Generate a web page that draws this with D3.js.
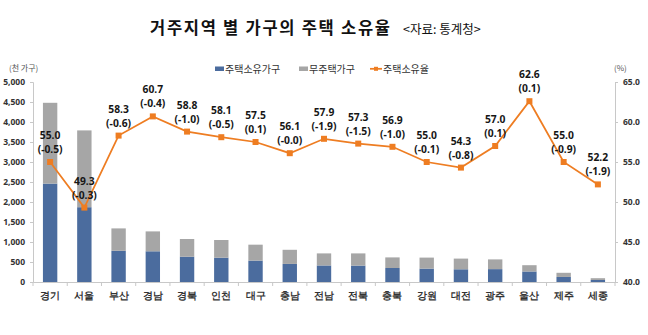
<!DOCTYPE html>
<html>
<head>
<meta charset="utf-8">
<script src="https://cdn.jsdelivr.net/npm/d3@7/dist/d3.min.js"></script>
<style>
  html, body { margin: 0; padding: 0; background: #fff; }
  svg { display: block; font-family: "Noto Sans CJK KR", "Noto Sans", sans-serif; }
</style>
</head>
<body>
<svg id="chart" width="648" height="335"></svg>
<script>
// Regions, ordered by number of households
const regions = ["경기","서울","부산","경남","경북","인천","대구","충남","전남","전북","충북","강원","대전","광주","울산","제주","세종"];
// Households owning a home (thousand households)
const ownerHouseholds = [2460,1870,780,768,632,608,535,452,414,410,350,335,318,322,263,126,50];
// Households without a home (thousand households)
const nonOwnerHouseholds = [2020,1920,560,497,443,442,398,353,301,305,265,275,267,243,157,104,45];
// Home ownership rate (%)
const ownershipRate = [55.0,49.3,58.3,60.7,58.8,58.1,57.5,56.1,57.9,57.3,56.9,55.0,54.3,57.0,62.6,55.0,52.2];
// Year-on-year change of the ownership rate (%p)
const rateChange = ["(-0.5)","(-0.3)","(-0.6)","(-0.4)","(-1.0)","(-0.5)","(0.1)","(-0.0)","(-1.9)","(-1.5)","(-1.0)","(-0.1)","(-0.8)","(0.1)","(0.1)","(-0.9)","(-1.9)"];
const leftTicks = [0,500,1000,1500,2000,2500,3000,3500,4000,4500,5000];
const rightTicks = [40,45,50,55,60,65];

const COLORS = { owner: "#4b6c9e", nonOwner: "#a6a6a6", rate: "#ee7d22", axis: "#c8c8c8", text: "#333", label: "#161616" };

const svg = d3.select("#chart");
const plot = { left: 33, right: 615, top: 82, bottom: 282 };

const x = d3.scaleBand().domain(regions).range([plot.left, plot.right])
  .paddingInner(0.58).paddingOuter(0.29);
const step = x.step();
const yL = d3.scaleLinear().domain([0, 5000]).range([plot.bottom, plot.top]);
const yR = d3.scaleLinear().domain([40, 65]).range([plot.bottom, plot.top]);

// Title and source
svg.append("text").attr("x", 150).attr("y", 34).attr("fill", "#111")
  .attr("font-size", 16.5).attr("font-weight", 700)
  .attr("textLength", 240).attr("lengthAdjust", "spacing")
  .text("거주지역 별 가구의 주택 소유율");
svg.append("text").attr("x", 403).attr("y", 33.5).attr("fill", "#111")
  .attr("font-size", 12.5)
  .text("<자료: 통계청>");

// Unit captions
svg.append("text").attr("x", 9).attr("y", 71).attr("font-size", 8).attr("fill", "#555").text("(천 가구)");
svg.append("text").attr("x", 614).attr("y", 71).attr("font-size", 8).attr("fill", "#555").text("(%)");

// Legend
const lg = svg.append("g").attr("font-size", 10).attr("fill", COLORS.text);
lg.append("rect").attr("x", 215).attr("y", 66.5).attr("width", 9).attr("height", 4.5).attr("fill", COLORS.owner);
lg.append("text").attr("x", 225).attr("y", 72.5).text("주택소유가구");
lg.append("rect").attr("x", 299).attr("y", 66.5).attr("width", 9).attr("height", 4.5).attr("fill", COLORS.nonOwner);
lg.append("text").attr("x", 309).attr("y", 72.5).text("무주택가구");
lg.append("line").attr("x1", 370).attr("x2", 382).attr("y1", 68.8).attr("y2", 68.8)
  .attr("stroke", COLORS.rate).attr("stroke-width", 1.75);
lg.append("rect").attr("x", 374).attr("y", 66.8).attr("width", 4).attr("height", 4).attr("fill", COLORS.rate);
lg.append("text").attr("x", 383).attr("y", 72.5).text("주택소유율");

// Stacked bars
const stacked = regions.map((r, i) => ({ region: r, owner: ownerHouseholds[i], nonOwner: nonOwnerHouseholds[i] }));
const series = d3.stack().keys(["owner", "nonOwner"])(stacked);
svg.append("g").selectAll("g").data(series).join("g")
  .attr("fill", d => COLORS[d.key])
  .selectAll("rect").data(d => d).join("rect")
  .attr("x", d => x(d.data.region))
  .attr("width", x.bandwidth())
  .attr("y", d => yL(d[1]))
  .attr("height", d => yL(d[0]) - yL(d[1]));

// Left axis
const axL = svg.append("g").attr("transform", `translate(${plot.left},0)`)
  .call(d3.axisLeft(yL).tickValues(leftTicks).tickFormat(d3.format(",")).tickSize(3).tickPadding(5));
// Right axis
const axR = svg.append("g").attr("transform", `translate(${plot.right},0)`)
  .call(d3.axisRight(yR).tickValues(rightTicks).tickFormat(d3.format(".1f")).tickSize(3).tickPadding(5));
[axL, axR].forEach(ax => {
  ax.select(".domain").attr("stroke", COLORS.axis);
  ax.selectAll(".tick line").attr("stroke", COLORS.axis);
  ax.selectAll(".tick text").attr("fill", COLORS.text).attr("font-size", 8.5).attr("font-weight", 700)
    .attr("font-family", "'Noto Sans', 'DejaVu Sans', sans-serif");
});

// Category axis with ticks between the bands
const axX = svg.append("g").attr("transform", `translate(0,${plot.bottom})`)
  .call(d3.axisBottom(x).tickSize(0).tickPadding(10));
axX.select(".domain").attr("stroke", COLORS.axis);
axX.selectAll(".tick text").attr("fill", COLORS.text).attr("font-size", 9.5).attr("font-weight", 700);
axX.selectAll(".sep").data(d3.range(regions.length + 1)).join("line")
  .attr("class", "sep")
  .attr("x1", i => plot.left + i * step).attr("x2", i => plot.left + i * step)
  .attr("y1", 0).attr("y2", 4).attr("stroke", COLORS.axis);

// Ownership rate line
const cx = r => x(r) + x.bandwidth() / 2;
const pts = regions.map((r, i) => [cx(r), yR(ownershipRate[i])]);
svg.append("path").attr("d", d3.line()(pts)).attr("fill", "none")
  .attr("stroke", COLORS.rate).attr("stroke-width", 1.75);
svg.append("g").selectAll("rect").data(pts).join("rect")
  .attr("x", d => d[0] - 3).attr("y", d => d[1] - 3)
  .attr("width", 6).attr("height", 6).attr("fill", COLORS.rate);

// Value labels: rate and its change
const labels = svg.append("g").attr("font-size", 10.3).attr("font-weight", 700)
  .attr("fill", COLORS.label).attr("text-anchor", "middle")
  .attr("font-family", "'Noto Sans', 'DejaVu Sans', sans-serif");
regions.forEach((r, i) => {
  const px = cx(r), py = yR(ownershipRate[i]);
  labels.append("text").attr("x", px).attr("y", py - 23).text(ownershipRate[i].toFixed(1));
  labels.append("text").attr("x", px).attr("y", py - 9).text(rateChange[i]);
});
</script>
</body>
</html>
